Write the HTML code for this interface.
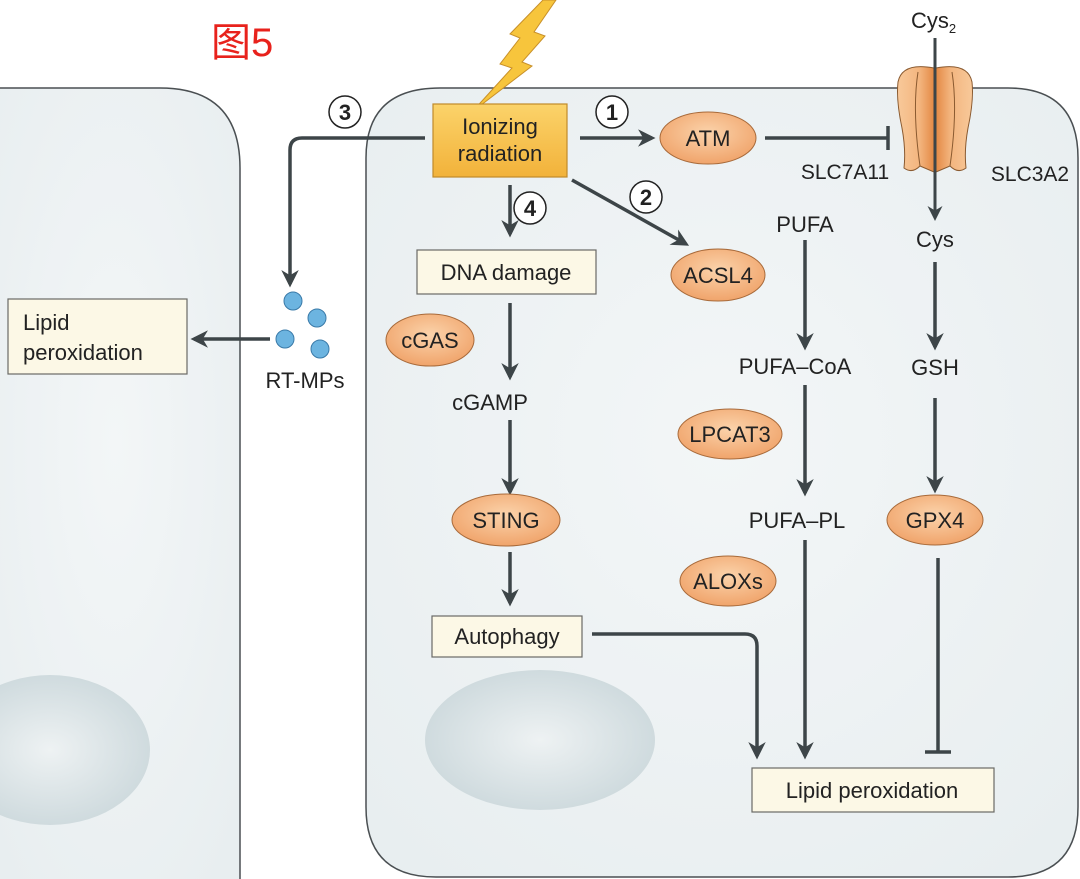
<!DOCTYPE html>
<html><head><meta charset="utf-8"><style>
html,body{margin:0;padding:0;background:#fff;width:1080px;height:879px;overflow:hidden}
svg text{font-family:"Liberation Sans","Noto Sans CJK SC",sans-serif;fill:#222}
</style></head><body>
<svg width="1080" height="879" viewBox="0 0 1080 879" xmlns="http://www.w3.org/2000/svg">
<defs>
<radialGradient id="cell" cx="0.5" cy="0.45" r="0.7"><stop offset="0" stop-color="#f3f6f7"/><stop offset="1" stop-color="#e8eef0"/></radialGradient>
<radialGradient id="nuc" cx="0.5" cy="0.5" r="0.6"><stop offset="0" stop-color="#eef2f3"/><stop offset="1" stop-color="#c9d6da"/></radialGradient>
<radialGradient id="enz" cx="0.5" cy="0.4" r="0.6"><stop offset="0" stop-color="#fbd3ab"/><stop offset="1" stop-color="#f0a46b"/></radialGradient>
<linearGradient id="ir" x1="0" y1="0" x2="0" y2="1"><stop offset="0" stop-color="#fbd36a"/><stop offset="1" stop-color="#f2b23a"/></linearGradient>
<linearGradient id="trl" x1="0" y1="0" x2="1" y2="0"><stop offset="0" stop-color="#f8c99a"/><stop offset="0.6" stop-color="#f3b57f"/><stop offset="1" stop-color="#e48a45"/></linearGradient>
<linearGradient id="trr" x1="1" y1="0" x2="0" y2="0"><stop offset="0" stop-color="#f8c99a"/><stop offset="0.6" stop-color="#f3b57f"/><stop offset="1" stop-color="#e48a45"/></linearGradient>
<marker id="ar" viewBox="0 0 10 10" refX="8" refY="5" markerWidth="5" markerHeight="5" orient="auto"><path d="M0,0 L10,5 L0,10 L3,5 Z" fill="#3d4548"/></marker>
</defs>
<path d="M-10,88 L160,88 Q240,88 240,168 L240,880 L-10,880 Z" fill="url(#cell)" stroke="#4a4f52" stroke-width="1.5"/>
<path d="M440,88 L1008,88 Q1078,88 1078,158 L1078,807 Q1078,877 1008,877 L436,877 Q366,877 366,807 L366,158 Q366,88 440,88 Z" fill="url(#cell)" stroke="#4a4f52" stroke-width="1.5"/>
<ellipse cx="50" cy="750" rx="100" ry="75" fill="url(#nuc)"/>
<ellipse cx="540" cy="740" rx="115" ry="70" fill="url(#nuc)"/>
<text x="211" y="56" font-size="40" style="fill:#e8221c">图5</text>
<path d="M543,0 L556,0 L534,32 L545,36 L522,62 L532,66 L472,112 L512,68 L500,64 L520,38 L510,34 Z" fill="#f7c53c" stroke="#c8902a" stroke-width="1"/>
<rect x="433" y="104" width="134" height="73" fill="url(#ir)" stroke="#c08a2a" stroke-width="1.2"/>
<text x="500" y="134" font-size="22" text-anchor="middle">Ionizing</text>
<text x="500" y="161" font-size="22" text-anchor="middle">radiation</text>
<g stroke="#3d4548" stroke-width="3.5" fill="none">
<line x1="580" y1="138" x2="652" y2="138" marker-end="url(#ar)"/>
<line x1="765" y1="138" x2="888" y2="138"/><line x1="888" y1="126" x2="888" y2="150"/>
<line x1="572" y1="180" x2="686" y2="244" marker-end="url(#ar)"/>
<line x1="510" y1="185" x2="510" y2="234" marker-end="url(#ar)"/>
<path d="M425,138 L302,138 Q290,138 290,150 L290,284" marker-end="url(#ar)"/>
<line x1="270" y1="339" x2="194" y2="339" marker-end="url(#ar)"/>
<line x1="510" y1="303" x2="510" y2="377" marker-end="url(#ar)"/>
<line x1="510" y1="420" x2="510" y2="492" marker-end="url(#ar)"/>
<line x1="510" y1="552" x2="510" y2="603" marker-end="url(#ar)"/>
<path d="M592,634 L745,634 Q757,634 757,646 L757,756" marker-end="url(#ar)"/>
<line x1="805" y1="240" x2="805" y2="347" marker-end="url(#ar)"/>
<line x1="805" y1="385" x2="805" y2="493" marker-end="url(#ar)"/>
<line x1="805" y1="540" x2="805" y2="756" marker-end="url(#ar)"/>
<line x1="935" y1="262" x2="935" y2="347" marker-end="url(#ar)"/>
<line x1="935" y1="398" x2="935" y2="490" marker-end="url(#ar)"/>
<line x1="938" y1="558" x2="938" y2="752"/><line x1="925" y1="752" x2="951" y2="752"/>
</g>
<!-- transporter -->
<path d="M934,68 Q902,62 898,82 Q896,100 902,128 Q906,150 904,168 Q912,174 920,166 L934,172 Z" fill="url(#trl)" stroke="#8a5a30" stroke-width="1"/>
<path d="M936,68 Q968,62 972,82 Q974,100 968,128 Q964,150 966,168 Q958,174 950,166 L936,172 Z" fill="url(#trr)" stroke="#8a5a30" stroke-width="1"/>
<path d="M918,72 Q912,110 920,166 M952,72 Q958,110 950,166" stroke="#8a5a30" stroke-width="1" fill="none"/>
<line x1="935" y1="38" x2="935" y2="218" stroke="#3d4548" stroke-width="3" marker-end="url(#ar)"/>
<text x="911" y="28" font-size="22">Cys<tspan font-size="13" dy="5">2</tspan></text>
<text x="845" y="179" font-size="21" text-anchor="middle">SLC7A11</text>
<text x="1030" y="181" font-size="21" text-anchor="middle">SLC3A2</text>
<text x="935" y="247" font-size="22" text-anchor="middle">Cys</text>
<text x="935" y="375" font-size="22" text-anchor="middle">GSH</text>
<text x="805" y="232" font-size="22" text-anchor="middle">PUFA</text>
<text x="795" y="374" font-size="22" text-anchor="middle">PUFA–CoA</text>
<text x="797" y="528" font-size="22" text-anchor="middle">PUFA–PL</text>
<text x="490" y="410" font-size="22" text-anchor="middle">cGAMP</text>
<g fill="url(#enz)" stroke="#a86a3a" stroke-width="1">
<ellipse cx="708" cy="138" rx="48" ry="26"/>
<ellipse cx="718" cy="275" rx="47" ry="26"/>
<ellipse cx="430" cy="340" rx="44" ry="26"/>
<ellipse cx="730" cy="434" rx="52" ry="25"/>
<ellipse cx="506" cy="520" rx="54" ry="26"/>
<ellipse cx="728" cy="581" rx="48" ry="25"/>
<ellipse cx="935" cy="520" rx="48" ry="25"/>
</g>
<g font-size="22" text-anchor="middle">
<text x="708" y="146">ATM</text><text x="718" y="283">ACSL4</text><text x="430" y="348">cGAS</text>
<text x="730" y="442">LPCAT3</text><text x="506" y="528">STING</text><text x="728" y="589">ALOXs</text><text x="935" y="528">GPX4</text>
</g>
<g fill="#fcf8e6" stroke="#6a6a66" stroke-width="1.2">
<rect x="417" y="250" width="179" height="44"/>
<rect x="432" y="616" width="150" height="41"/>
<rect x="752" y="768" width="242" height="44"/>
<rect x="8" y="299" width="179" height="75"/>
</g>
<text x="506" y="280" font-size="22" text-anchor="middle">DNA damage</text>
<text x="507" y="644" font-size="22" text-anchor="middle">Autophagy</text>
<text x="872" y="798" font-size="22" text-anchor="middle">Lipid peroxidation</text>
<text x="23" y="330" font-size="22">Lipid</text>
<text x="23" y="360" font-size="22">peroxidation</text>
<g fill="#6cb4e0" stroke="#3a7aa8" stroke-width="1">
<circle cx="293" cy="301" r="9"/><circle cx="317" cy="318" r="9"/><circle cx="285" cy="339" r="9"/><circle cx="320" cy="349" r="9"/>
</g>
<text x="305" y="388" font-size="22" text-anchor="middle">RT-MPs</text>
<g fill="#fff" stroke="#222" stroke-width="1.5">
<circle cx="612" cy="112" r="16"/><circle cx="646" cy="197" r="16"/><circle cx="345" cy="112" r="16"/><circle cx="530" cy="208" r="16"/>
</g>
<g font-size="22" font-weight="bold" text-anchor="middle">
<text x="612" y="120">1</text><text x="646" y="205">2</text><text x="345" y="120">3</text><text x="530" y="216">4</text>
</g>
</svg>
</body></html>
